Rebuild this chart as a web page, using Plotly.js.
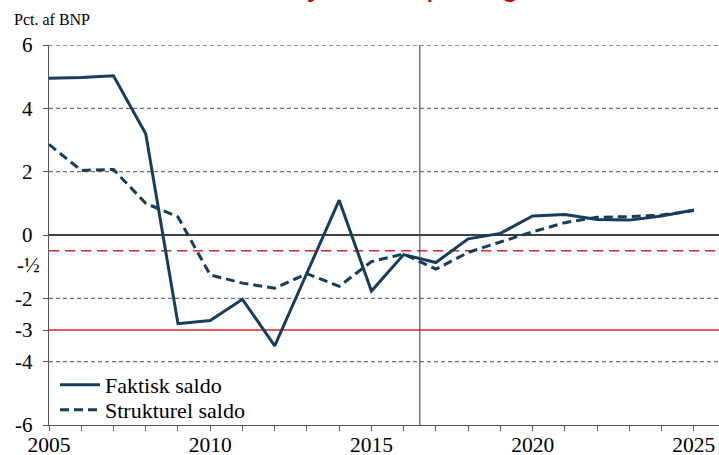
<!DOCTYPE html>
<html>
<head>
<meta charset="utf-8">
<script src="https://cdn.plot.ly/plotly-3.0.1.min.js"></script>
<style>html,body{margin:0;padding:0;background:#fff;}#chart{width:719px;height:455px;}</style>
</head>
<body>
<div id="chart"></div>
<script>
const years = [2005,2006,2007,2008,2009,2010,2011,2012,2013,2014,2015,2016,2017,2018,2019,2020,2021,2022,2023,2024,2025];
const faktiskSaldo = [4.95,4.97,5.03,3.2,-2.8,-2.7,-2.03,-3.5,-1.2,1.1,-1.77,-0.62,-0.87,-0.12,0.05,0.6,0.65,0.49,0.47,0.6,0.79];
const strukturelSaldo = [2.86,2.04,2.07,1.0,0.57,-1.26,-1.52,-1.68,-1.22,-1.62,-0.84,-0.6,-1.08,-0.55,-0.22,0.1,0.39,0.56,0.58,0.63,0.77];
const seriesNames = ["Faktisk saldo","Strukturel saldo"];
const yTickVals = [6,4,2,0,-2,-3,-4,-6];
const yTickText = ["6","4","2","0","-2","-3","-4","-6"];
const grayGridVals = [6,4,2,-2,-4];
const redSolidVal = -3;
const redDashVal = -0.5;
const halfLabel = "-½";
const halfLabelPos = -0.95;
const dividerYear = 2016.5;
const xTickLabels = years.map(y => (y % 5 === 0 ? String(y) : ""));
const yAxisTitle = "Pct. af BNP";
const chartTitle = "Saldoen styrkes i opsving";

const navy = "#163d5c";
const serif = "Liberation Serif";

const traces = [
  {x: years, y: faktiskSaldo, name: seriesNames[0], type: "scatter", mode: "lines",
   line: {color: navy, width: 3}, legend: "legend"},
  {x: years, y: strukturelSaldo, name: seriesNames[1], type: "scatter", mode: "lines",
   line: {color: navy, width: 3, dash: "9px,5px"}, legend: "legend2"}
];

const xMin = 2005, xMax = 2025.78;
const shapes = [];
grayGridVals.forEach(v => shapes.push({type: "line", xref: "x", yref: "y", x0: xMin, x1: xMax, y0: v, y1: v,
  line: {color: "#707070", width: 1.3, dash: "4px,3px"}, layer: "below"}));
shapes.push({type: "line", xref: "x", yref: "y", x0: xMin, x1: xMax, y0: 0, y1: 0, line: {color: "#000", width: 1.3}, layer: "below"});
shapes.push({type: "line", xref: "x", yref: "y", x0: xMin, x1: xMax, y0: redSolidVal, y1: redSolidVal, line: {color: "#e0202a", width: 1.5}, layer: "below"});
shapes.push({type: "line", xref: "x", yref: "y", x0: xMin, x1: xMax, y0: redDashVal, y1: redDashVal, line: {color: "#e0202a", width: 1.5, dash: "10px,6px"}, layer: "below"});
shapes.push({type: "line", xref: "x", yref: "y", x0: dividerYear, x1: dividerYear, y0: -6, y1: 6, line: {color: "#555", width: 1.2}, layer: "below"});

const legendCommon = {xanchor: "left", yanchor: "middle", bgcolor: "rgba(0,0,0,0)",
  font: {family: serif, size: 22, color: "#000"}, itemwidth: 40, borderwidth: 0};
// pixel -> paper helpers for the plot area (x: 49..719, y: 45..425)
const px = p => (p - 49) / 670;
const py = p => (425 - p) / 380;

const layout = {
  width: 719, height: 455,
  margin: {l: 49, r: 0, t: 45, b: 30},
  paper_bgcolor: "#fff", plot_bgcolor: "#fff",
  font: {family: serif},
  showlegend: true,
  legend: Object.assign({}, legendCommon, {x: px(55), y: py(385)}),
  legend2: Object.assign({}, legendCommon, {x: px(55), y: py(410)}),
  xaxis: {range: [xMin, xMax], tickmode: "array", tickvals: years, ticktext: xTickLabels,
    ticks: "outside", ticklen: 5, tickcolor: "#555", showline: true, linecolor: "#555", linewidth: 1.2,
    showgrid: false, zeroline: false, tickfont: {family: serif, size: 21.5, color: "#000"}, ticklabelstandoff: -5},
  yaxis: {range: [-6, 6], tickmode: "array", tickvals: yTickVals, ticktext: yTickText,
    ticks: "outside", ticklen: 5, tickcolor: "#555", showline: true, linecolor: "#555", linewidth: 1.2,
    showgrid: false, zeroline: false, tickfont: {family: serif, size: 21, color: "#000"}, ticklabelstandoff: 6},
  shapes: shapes,
  annotations: [
    {text: halfLabel, xref: "paper", yref: "y", x: 0, y: halfLabelPos, xanchor: "right", yanchor: "middle",
     xshift: -7, showarrow: false, font: {family: serif, size: 21, color: "#000"}},
    {text: yAxisTitle, xref: "paper", yref: "paper", x: -0.055, y: 1 + (45 - 30) / 380, xanchor: "left", yanchor: "bottom",
     showarrow: false, font: {family: serif, size: 16, color: "#000"}},
    {text: chartTitle, xref: "paper", yref: "paper", x: (154 - 49) / 670, y: 1 + (45 - 4) / 380, xanchor: "left", yanchor: "bottom",
     showarrow: false, font: {family: "Liberation Sans", size: 32, color: "#cc0000"}}
  ]
};

Plotly.newPlot("chart", traces, layout, {displayModeBar: false, staticPlot: true});
</script>
</body>
</html>
